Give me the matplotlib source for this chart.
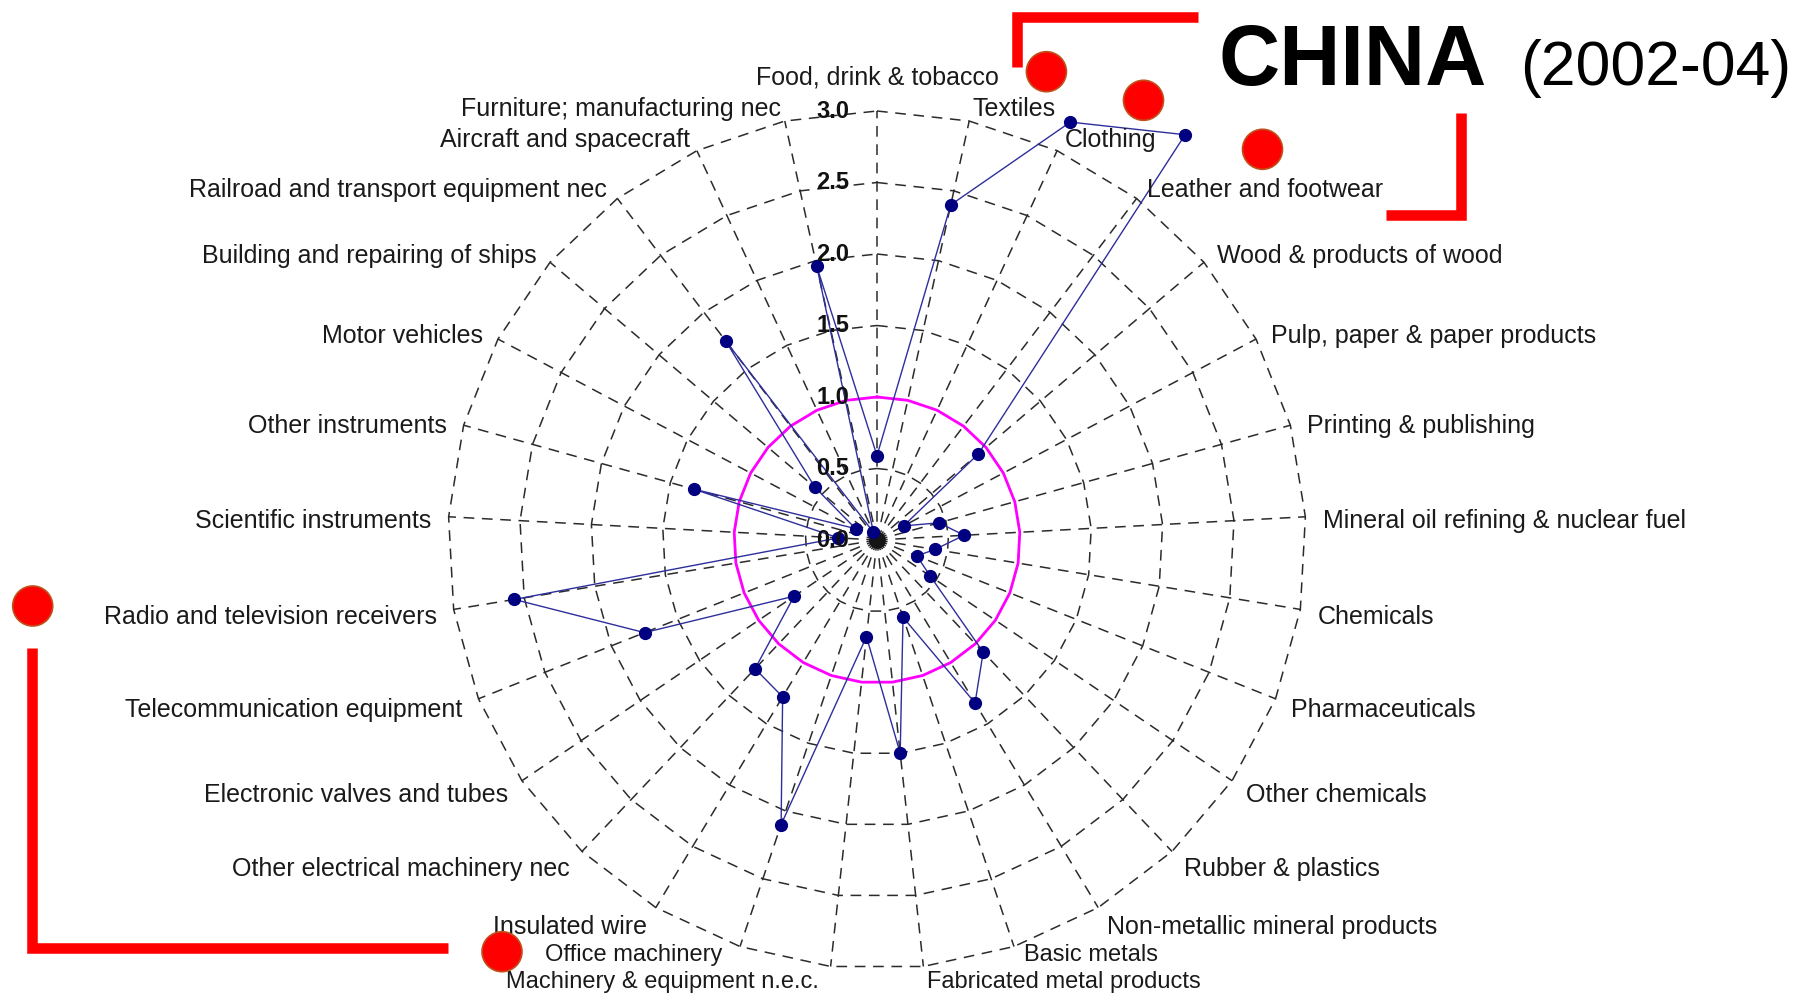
import numpy as np
import matplotlib
matplotlib.use("Agg")
import matplotlib.pyplot as plt
from matplotlib.patches import Ellipse
from matplotlib.lines import Line2D
import matplotlib.transforms as mtransforms

plt.rcParams['font.family'] = ['Liberation Sans', 'DejaVu Sans']

# ---------------- data ----------------
categories = [
    "Food, drink & tobacco", "Textiles", "Clothing", "Leather and footwear",
    "Wood & products of wood", "Pulp, paper & paper products", "Printing & publishing",
    "Mineral oil refining & nuclear fuel", "Chemicals", "Pharmaceuticals",
    "Other chemicals", "Rubber & plastics", "Non-metallic mineral products",
    "Basic metals", "Fabricated metal products", "Machinery & equipment n.e.c.",
    "Office machinery", "Insulated wire", "Other electrical machinery nec",
    "Electronic valves and tubes", "Telecommunication equipment",
    "Radio and television receivers", "Scientific instruments", "Other instruments",
    "Motor vehicles", "Building and repairing of ships",
    "Railroad and transport equipment nec", "Aircraft and spacecraft",
    "Furniture; manufacturing nec",
]
values = [0.59, 2.40, 3.22, 3.56, 0.93, 0.21, 0.45, 0.61, 0.41, 0.30,
          0.45, 1.08, 1.33, 0.57, 1.50, 0.68, 2.10, 1.28, 1.24, 0.70,
          1.75, 2.57, 0.27, 1.33, 0.17, 0.57, 1.75, 0.06, 1.96]
benchmark = 1.0
ring_levels = [0.5, 1.0, 1.5, 2.0, 2.5, 3.0]
tick_values = [0.0, 0.5, 1.0, 1.5, 2.0, 2.5, 3.0]
tick_labels = ["0.0", "0.5", "1.0", "1.5", "2.0", "2.5", "3.0"]
title_main = "CHINA"
title_sub = "(2002-04)"

# ---------------- layout ----------------
W, H = 1798, 996
fig = plt.figure(figsize=(W / 100, H / 100), dpi=100)
fig.patch.set_facecolor("white")

cx, cy = 877, 540          # centre of the web in pixels (from top-left)
unit = 143.0               # pixels per 1.0
rmax = 3.8
R = rmax * unit
ax = fig.add_axes([(cx - R) / W, (H - cy - R) / H, 2 * R / W, 2 * R / H],
                  projection="polar")
ax.set_theta_zero_location("N")
ax.set_theta_direction(-1)
ax.set_ylim(0, rmax)
ax.grid(False)
ax.set_xticks([])
ax.set_yticks([])
ax.spines["polar"].set_visible(False)
ax.patch.set_visible(False)

n = len(categories)
theta = np.deg2rad(np.arange(n) * 360.0 / n)
theta_c = np.append(theta, theta[0])

grid_kw = dict(color="#2b2b2b", lw=1.1, linestyle=(0, (7, 5)), zorder=1)
for lv in ring_levels:
    ax.plot(theta_c, np.full(n + 1, lv), **grid_kw)
for t in theta:
    ax.plot([t, t], [0, ring_levels[-1]], **grid_kw)
ax.plot([0], [0], marker="o", ms=11, color="#151515", zorder=1.5)

# benchmark polygon
ax.plot(theta_c, np.full(n + 1, benchmark), color="#ff00ff", lw=2.0, zorder=2)

# data
vals_c = np.append(values, values[0])
ax.plot(theta_c, vals_c, color="#2e2e9c", lw=1.0, zorder=3)
ax.plot(theta, values, linestyle="none", marker="o", ms=8.5,
        color="#000080", zorder=4)

# radial tick labels
off = mtransforms.offset_copy(ax.transData, fig=fig, x=-28, y=0, units="dots")
for v, s in zip(tick_values, tick_labels):
    ax.text(0, v, s, transform=off, ha="right", va="center", fontsize=17,
            fontweight="bold", color="#111111", zorder=6)

# category labels (with small pixel nudges for the crowded bottom labels)
nudge = {13: (5, 12.4), 14: (1.4, 6.6), 15: (-10, 6.6), 16: (-12, 12.4)}
r_lab = 3.12
for i, (t, lab) in enumerate(zip(np.rad2deg(theta), categories)):
    dx, dy = nudge.get(i, (0, 0))
    size = 17 if i in nudge else 18
    tr = mtransforms.offset_copy(ax.transData, fig=fig, x=dx, y=-5 + dy,
                                 units="dots")
    r = r_lab
    if t == 0:
        ha, r = "center", 3.27
    elif t < 180:
        ha = "left"
    else:
        ha = "right"
    ax.text(np.deg2rad(t), r, lab, transform=tr, ha=ha, va="center",
            fontsize=size, color="#1a1a1a", clip_on=False)

# ---------------- overlay decorations ----------------
def fx(x):
    return x / W

def fy(y):
    return 1 - y / H

red = "#ff0000"
for pts in [[(1016.5, 67), (1016.5, 17.5), (1198, 17.5)],
            [(1461, 113), (1461, 215.5), (1386, 215.5)],
            [(31.8, 648), (31.8, 947.7), (448, 947.7)]]:
    xs = [fx(p[0]) for p in pts]
    ys = [fy(p[1]) for p in pts]
    fig.add_artist(Line2D(xs, ys, color=red, lw=7.6, solid_capstyle="butt",
                          solid_joinstyle="miter", transform=fig.transFigure))

for (x, y) in [(1046.4, 71.7), (1143.5, 100.3), (1262.5, 149.3),
               (32.7, 606), (502, 951.7)]:
    fig.add_artist(Ellipse((fx(x), fy(y)), 40 / W, 40 / H, facecolor=red,
                           edgecolor="#c0501a", lw=1.2,
                           transform=fig.transFigure, zorder=10))

fig.text(fx(1219), fy(85), title_main, fontsize=61, fontweight="bold",
         ha="left", va="baseline", color="black")
fig.text(fx(1520), fy(85), title_sub, fontsize=45, ha="left",
         va="baseline", color="black")

fig.savefig("out.png", dpi=100, facecolor="white")
